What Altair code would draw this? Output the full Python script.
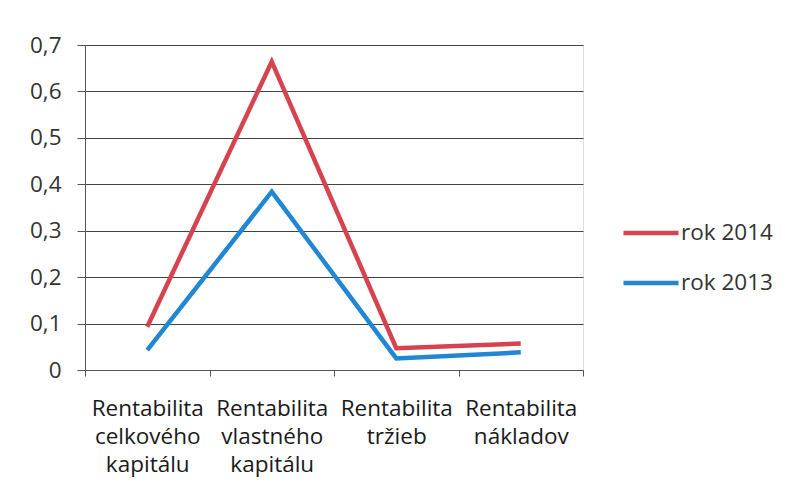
import altair as alt
import pandas as pd

categories = [
    "Rentabilita\ncelkového\nkapitálu",
    "Rentabilita\nvlastného\nkapitálu",
    "Rentabilita\ntržieb",
    "Rentabilita\nnákladov",
]
rok_2014 = [0.093, 0.664, 0.047, 0.057]
rok_2013 = [0.043, 0.384, 0.025, 0.038]
series_names = ["rok 2014", "rok 2013"]
series_colors = ["#d6434f", "#2287d2"]

rows = []
for i, c in enumerate(categories):
    rows.append({"kat": c, "idx": i, "seria": "rok 2014", "hodnota": rok_2014[i]})
    rows.append({"kat": c, "idx": i, "seria": "rok 2013", "hodnota": rok_2013[i]})
df = pd.DataFrame(rows)

FONT = "Open Sans"
FS = 22.5

chart = alt.Chart(df).mark_line(strokeWidth=4.5, strokeCap="butt", strokeJoin="miter").encode(
    x=alt.X(
        "kat:N",
        sort=categories,
        scale=alt.Scale(paddingInner=0, paddingOuter=0),
        axis=alt.Axis(
            title=None,
            labelAngle=0,
            labelExpr="split(datum.label, '\\n')",
            labelFontSize=FS,
            labelFont=FONT,
            labelColor="#1a1a1a",
            labelLineHeight=28,
            labelPadding=21,
            labelBaseline="top",
            tickBand="extent",
            tickSize=6,
            tickColor="#555555",
            domainColor="#555555",
            grid=False,
        ),
    ),
    y=alt.Y(
        "hodnota:Q",
        scale=alt.Scale(domain=[0, 0.7], nice=False),
        axis=alt.Axis(
            title=None,
            values=[0, 0.1, 0.2, 0.3, 0.4, 0.5, 0.6, 0.7],
            labelExpr="datum.value == 0 ? '0' : replace(format(datum.value, '.1f'), '.', ',')",
            labelFontSize=FS,
            labelFont=FONT,
            labelColor="#333333",
            labelPadding=16,
            tickSize=8,
            tickColor="#555555",
            domainColor="#555555",
            gridColor="#444444",
            gridWidth=1.2,
        ),
    ),
    color=alt.Color(
        "seria:N",
        sort=series_names,
        scale=alt.Scale(domain=series_names, range=series_colors),
        legend=alt.Legend(
            title=None,
            orient="none",
            legendX=536,
            legendY=158,
            symbolType="stroke",
            symbolSize=3025,
            symbolStrokeWidth=4.5,
            labelFontSize=FS,
            labelFont=FONT,
            labelColor="#333333",
            labelOffset=0,
            rowPadding=8,
        ),
    ),
    detail="seria:N",
).properties(
    width=498,
    height=325,
    autosize=alt.AutoSizeParams(type="none"),
    padding={"left": 77, "top": 37, "right": 200, "bottom": 120},
).configure_view(stroke=None).configure(background="white")

chart.save("out.html", embed_options={"renderer": "svg", "actions": False})
